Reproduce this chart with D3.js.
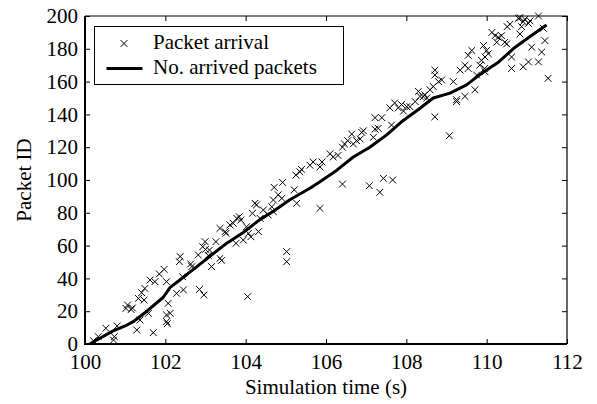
<!DOCTYPE html>
<html>
<head>
<meta charset="utf-8">
<script src="https://cdn.jsdelivr.net/npm/d3@7"></script>
<style>
  body { margin: 0; background: #fff; }
  text { font-family: "Liberation Serif", "Times New Roman", serif; }
</style>
</head>
<body>
<svg id="chart" width="597" height="404"></svg>
<script>
// arrival time (s) of each received packet
const arrivalTime = [
  100.21, 100.33, 100.52, 100.73, 100.71, 100.80, 101.02, 101.06, 101.15, 101.18,
  101.29, 101.33, 101.41, 101.37, 101.47, 101.49, 101.58, 101.62, 101.70, 101.74,
  101.85, 101.97, 102.03, 102.03, 102.05, 102.07, 102.12, 102.03, 102.28, 102.37,
  102.35, 102.45, 102.43, 102.63, 102.66, 102.85, 102.96, 102.82, 102.93, 102.99,
  103.00, 103.10, 103.07, 103.15, 103.26, 103.36, 103.40, 103.36, 103.49, 103.51,
  103.61, 103.69, 103.76, 103.78, 103.84, 103.88, 103.94, 104.07, 104.13, 104.05,
  104.17, 104.27, 104.32, 104.36, 104.44, 104.56, 104.65, 104.69, 105.02, 105.02,
  105.27, 104.02, 104.23, 104.69, 104.90, 105.85,
  104.71, 104.92, 104.81, 105.21, 105.25, 105.35, 105.39,
  105.60, 105.68, 105.85, 105.90, 106.10, 106.18, 106.30, 106.41, 106.41, 106.46,
  106.54, 106.64, 106.68, 106.76, 106.85, 106.89, 107.08, 107.22, 107.22, 107.30,
  107.34, 107.39, 107.43, 107.59, 107.66, 107.71, 107.80, 107.88, 107.93, 108.30,
  108.34, 108.46, 108.51, 108.59, 108.67, 108.71, 108.71, 108.71, 108.80, 108.88,
  109.07, 109.17, 109.25, 109.34, 109.46, 109.46, 109.54, 109.63, 109.71, 109.75,
  109.83, 109.87, 109.92, 109.95, 109.96, 110.00, 110.13, 110.21, 110.25, 110.29,
  110.37, 110.45, 110.50, 110.51, 110.58, 110.62, 110.62, 110.83, 110.83, 110.87,
  110.91, 110.95, 111.04, 111.08, 111.12, 111.29, 111.29, 111.37, 111.45, 111.53,
  110.79, 110.91, 111.04, 111.41, 109.96,
  107.18, 107.63, 108.01, 108.22, 106.93,
  108.09, 108.42, 109.25, 109.54, 110.04
];
const packetId = [
  2, 4.5, 9.6, 4.5, 2.4, 11, 21.7, 23.8, 21, 22,
  8.5, 27.8, 31.3, 14.6, 26.8, 33.9, 18.7, 39, 6.9, 38,
  42.7, 45.5, 17.7, 13.6, 12.4, 24.8, 18.7, 38, 30.9, 53.3,
  50.2, 33, 41, 48.8, 47.2, 33.3, 29.9, 54.3, 59.3, 62.4,
  57.7, 57.3, 54, 47.2, 62.4, 52.2, 51, 70.5, 68.5, 67.5,
  72.6, 73.6, 61.4, 76.6, 77.6, 75.6, 63.4, 67.5, 65.4, 28.9,
  79.7, 84.8, 68.5, 76.6, 81.7, 78.7, 83.7, 80.7, 56.3, 50.2,
  85.8, 71.5, 85.8, 87.8, 88.8, 82.7,
  95.5, 98.5, 91, 94, 103, 105, 106.5,
  109, 111, 108, 111, 116, 114, 115, 97.5, 120, 122,
  124, 128, 122, 124, 125, 129, 96.5, 138, 131, 131.5,
  92.5, 138, 101, 144, 100, 147, 144, 146, 142, 154,
  151, 152, 150, 155, 157, 167, 164, 138.5, 160, 161,
  127, 160, 149, 167, 151, 170, 168, 179, 155, 164,
  170, 173, 182, 168, 166, 179, 190, 188, 184, 187,
  188, 184, 183, 193.5, 195, 175, 168, 189, 199, 193.5,
  169, 198, 172, 197, 181, 200, 172, 178, 185, 162,
  198.6, 196.5, 195.5, 192.5, 175,
  126, 133.5, 144.7, 147.8, 130,
  144.7, 150.8, 147.8, 176, 177
];

// cumulative number of arrived packets over time
const countTime = [
  100.12, 100.37, 100.70, 101.00, 101.20, 101.54, 101.95, 102.12, 102.36, 102.70,
  103.11, 103.53, 103.94, 104.36, 104.69, 105.10, 105.60, 105.85, 106.27, 106.68,
  107.09, 107.51, 107.88, 108.30, 108.67, 109.09, 109.50, 109.87, 110.30, 110.66,
  111.08, 111.49
];
const countValue = [
  0, 3.5, 8, 11, 13.6, 20, 28.5, 34.5, 39, 45.5,
  53.5, 61.5, 68, 76, 81, 88, 95, 99, 106, 114,
  120, 127.5, 135.5, 143, 150, 153, 158, 165, 172, 180,
  187.5, 194.5
];

const xTicks = [100, 102, 104, 106, 108, 110, 112];
const yTicks = [0, 20, 40, 60, 80, 100, 120, 140, 160, 180, 200];
const legendLabels = ["Packet arrival", "No. arrived packets"];

const svg = d3.select("#chart");
const margin = { top: 16, right: 30, bottom: 60, left: 85 };
const width = +svg.attr("width") - margin.left - margin.right;
const height = +svg.attr("height") - margin.top - margin.bottom;

const g = svg.append("g")
  .attr("transform", `translate(${margin.left},${margin.top})`);

const x = d3.scaleLinear().domain([100, 112]).range([0, width]);
const y = d3.scaleLinear().domain([0, 200]).range([height, 0]);

const fontSize = "21px";

// axes, ticks pointing inward
function styleAxis(sel) {
  sel.select(".domain").remove();
  sel.selectAll(".tick line").attr("stroke", "#000").attr("stroke-width", 1);
  sel.selectAll(".tick text").attr("fill", "#000").style("font-size", fontSize)
    .style("font-family", '"Liberation Serif", serif');
}

g.append("g")
  .attr("transform", `translate(0,${height})`)
  .call(d3.axisBottom(x).tickValues(xTicks).tickSizeInner(-5).tickSizeOuter(0).tickPadding(10))
  .call(styleAxis);

g.append("g")
  .call(d3.axisLeft(y).tickValues(yTicks).tickSizeInner(-5).tickSizeOuter(0).tickPadding(7))
  .call(styleAxis);

g.append("g")
  .call(d3.axisTop(x).tickValues(xTicks).tickSizeInner(-5).tickSizeOuter(0).tickFormat(""))
  .call(styleAxis);

g.append("g")
  .attr("transform", `translate(${width},0)`)
  .call(d3.axisRight(y).tickValues(yTicks).tickSizeInner(-5).tickSizeOuter(0).tickFormat(""))
  .call(styleAxis);

// cross marker path
const r = 3.4;
const cross = `M${-r},${-r}L${r},${r}M${-r},${r}L${r},${-r}`;

// scatter
const points = arrivalTime.map((t, i) => ({ t, id: packetId[i] }));
g.append("g")
  .selectAll("path")
  .data(points)
  .join("path")
  .attr("transform", d => `translate(${x(d.t)},${y(d.id)})`)
  .attr("d", cross)
  .attr("fill", "none")
  .attr("stroke", "#000")
  .attr("stroke-width", 1);

// count line
const countData = countTime.map((t, i) => ({ t, v: countValue[i] }));
g.append("path")
  .datum(countData)
  .attr("fill", "none")
  .attr("stroke", "#000")
  .attr("stroke-width", 3)
  .attr("stroke-linejoin", "round")
  .attr("d", d3.line().x(d => x(d.t)).y(d => y(d.v)));

// frame: thin top/right, heavier left/bottom
g.append("path")
  .attr("d", `M0,0H${width}V${height}`)
  .attr("fill", "none")
  .attr("stroke", "#000")
  .attr("stroke-width", 1.2);
g.append("path")
  .attr("d", `M0,0V${height}H${width}`)
  .attr("fill", "none")
  .attr("stroke", "#000")
  .attr("stroke-width", 2);

// legend
const legend = g.append("g").attr("transform", "translate(9.5,10.5)");
legend.append("rect")
  .attr("width", 249)
  .attr("height", 58)
  .attr("fill", "#fff")
  .attr("stroke", "#000")
  .attr("stroke-width", 1);
legend.append("path")
  .attr("transform", "translate(29.5,17)")
  .attr("d", cross)
  .attr("fill", "none")
  .attr("stroke", "#000");
legend.append("line")
  .attr("x1", 12).attr("x2", 48)
  .attr("y1", 42).attr("y2", 42)
  .attr("stroke", "#000")
  .attr("stroke-width", 3);
legend.selectAll("text.leg")
  .data(legendLabels)
  .join("text")
  .attr("class", "leg")
  .attr("x", 58.5)
  .attr("y", (d, i) => 22.5 + i * 25)
  .style("font-size", fontSize)
  .text(d => d);

// axis titles
svg.append("text")
  .attr("x", margin.left + width / 2)
  .attr("y", 394)
  .attr("text-anchor", "middle")
  .style("font-size", fontSize)
  .text("Simulation time (s)");

svg.append("text")
  .attr("transform", `translate(31,${margin.top + height / 2}) rotate(-90)`)
  .attr("text-anchor", "middle")
  .style("font-size", fontSize)
  .text("Packet ID");
</script>
</body>
</html>
